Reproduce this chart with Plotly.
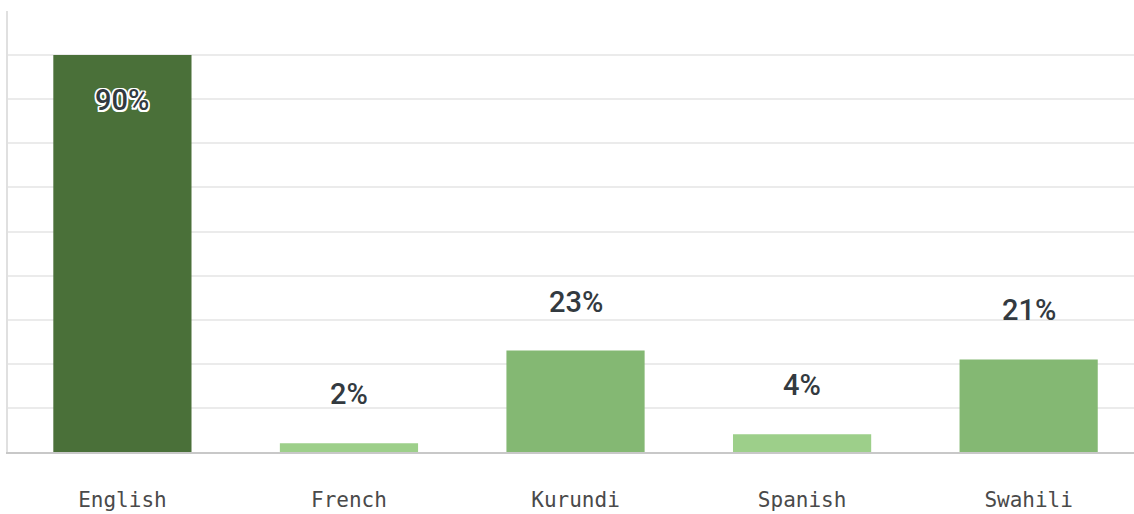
import plotly.graph_objects as go

categories = ["English", "French", "Kurundi", "Spanish", "Swahili"]
values = [90, 2, 23, 4, 21]
labels = ["90%", "2%", "23%", "4%", "21%"]

bar_colors = ["#4a7039", "#9dcf8a", "#84b873", "#9dcf8a", "#84b873"]

fig = go.Figure()
fig.add_trace(go.Bar(
    x=categories, y=values,
    marker=dict(color=bar_colors, line=dict(width=0)),
    hoverinfo="skip",
))

halo = ("1.5px 1.5px 0 #fff, -1.5px -1.5px 0 #fff, 1.5px -1.5px 0 #fff, -1.5px 1.5px 0 #fff, "
        "0 1.5px 0 #fff, 0 -1.5px 0 #fff, 1.5px 0 0 #fff, -1.5px 0 0 #fff")
for c, v, t in zip(categories, values, labels):
    inside = v >= 50
    fig.add_annotation(
        x=c, y=v, text=t, showarrow=False,
        xanchor="center", yanchor="middle",
        yshift=-45 if inside else 49,
        font=dict(family="Roboto", size=29, color="#333a40", weight=500,
                  shadow=halo if inside else "none"),
    )

fig.update_layout(
    width=1134, height=514,
    margin=dict(l=8, r=0, t=11, b=62),
    paper_bgcolor="white", plot_bgcolor="white",
    bargap=0.39,
    showlegend=False,
    xaxis=dict(
        range=[-0.505, 4.465],
        showgrid=False, zeroline=False,
        showline=True, linecolor="#c8c8c8", linewidth=2,
        ticks="", ticklabelstandoff=28,
        tickfont=dict(family="DejaVu Sans Mono", size=21, color="#4a4a4a"),
        fixedrange=True,
    ),
    yaxis=dict(
        range=[0, 100], dtick=10,
        showgrid=True, gridcolor="#ebebeb", gridwidth=1.5,
        zeroline=False, showticklabels=False,
        showline=True, linecolor="#e0e0e0", linewidth=1.5,
        ticks="", fixedrange=True,
    ),
)

fig.write_html("out.html", config={"displayModeBar": False},
               post_script="document.body.style.margin='0';")
